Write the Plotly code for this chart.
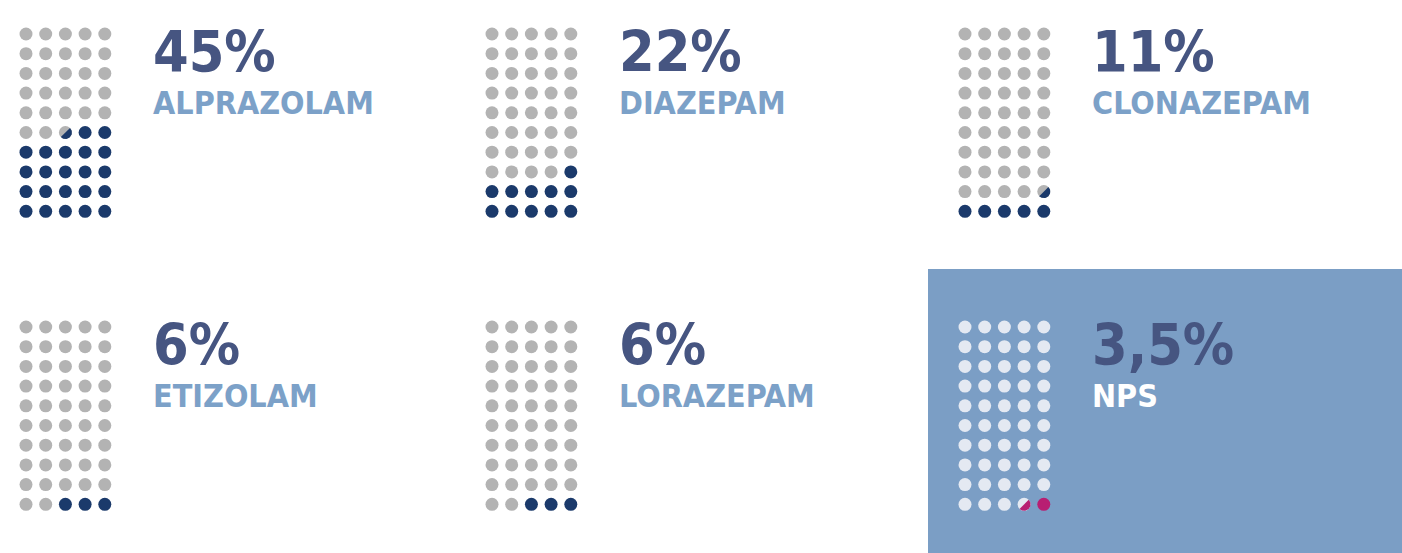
import math
import plotly.graph_objects as go

# ---- data ----
drugs = ["ALPRAZOLAM", "DIAZEPAM", "CLONAZEPAM", "ETIZOLAM", "LORAZEPAM", "NPS"]
shares = [45, 22, 11, 6, 6, 3.5]          # percent
share_labels = ["45%", "22%", "11%", "6%", "6%", "3,5%"]
highlighted = [False, False, False, False, False, True]

# ---- style / layout ----
W, H = 1402, 553
COLS, ROWS = 5, 10
PCT_PER_DOT = 100 / (COLS * ROWS)
STEP = 19.7
DOT = 13
grid_x = [26, 492, 965]      # first dot centre (px) per panel column
grid_y = [34, 327]           # top dot centre (px) per panel row
TEXT_DX = 125
FONT = "DejaVu Sans Condensed, Liberation Sans Narrow, sans-serif"

C_EMPTY = "#b3b3b3"
C_FULL = "#1b3a6b"
C_EMPTY_HL = "#e4e9f2"
C_FULL_HL = "#b81f72"
C_NUM = "#465581"
C_LABEL = "#7ca1c8"
C_PANEL = "#7b9ec5"

fig = go.Figure()
layout_axes = {}
annotations = []

for i, (name, val, lab, hl) in enumerate(zip(drugs, shares, share_labels, highlighted)):
    pc, pr = i % 3, i // 3
    gx, gy = grid_x[pc], grid_y[pr]
    ax = "" if i == 0 else str(i + 1)
    x0 = (gx - STEP / 2) / W
    x1 = (gx + (COLS - 0.5) * STEP) / W
    ybot_px = gy + (ROWS - 1) * STEP + STEP / 2
    ytop_px = gy - STEP / 2
    layout_axes["xaxis" + ax] = dict(domain=[x0, x1], range=[-0.5, COLS - 0.5], visible=False,
                                     fixedrange=True, anchor="y" + ax)
    layout_axes["yaxis" + ax] = dict(domain=[(H - ybot_px) / H, (H - ytop_px) / H],
                                     range=[-0.5, ROWS - 0.5], visible=False, fixedrange=True,
                                     anchor="x" + ax)
    empty_c = C_EMPTY_HL if hl else C_EMPTY
    full_c = C_FULL_HL if hl else C_FULL
    n = val / PCT_PER_DOT
    nfull = int(math.floor(n + 1e-9))
    frac = n - nfull
    xs, ys, cs = [], [], []
    partial = None
    for k in range(COLS * ROWS):
        r = k // COLS
        c = COLS - 1 - (k % COLS)
        xs.append(c)
        ys.append(r)
        cs.append(full_c if k < nfull else empty_c)
        if k == nfull and frac > 1e-9:
            partial = (c, r)
    fig.add_trace(go.Scatter(x=xs, y=ys, mode="markers", xaxis="x" + ax, yaxis="y" + ax,
                             marker=dict(size=DOT, color=cs, line=dict(width=0)),
                             hoverinfo="skip", showlegend=False))
    if partial is not None:
        rad = (DOT / 2) / STEP
        px, py = [], []
        for j in range(41):
            a = math.radians(45 - 180 * j / 40)
            px.append(partial[0] + rad * math.cos(a))
            py.append(partial[1] + rad * math.sin(a))
        fig.add_trace(go.Scatter(x=px, y=py, mode="lines", fill="toself", fillcolor=full_c,
                                 line=dict(width=0, color=full_c), xaxis="x" + ax, yaxis="y" + ax,
                                 hoverinfo="skip", showlegend=False))
    tx = (gx + TEXT_DX) / W
    annotations.append(dict(text=lab, x=tx, y=(H - (gy + 18)) / H, xref="paper", yref="paper",
                            xanchor="left", yanchor="middle", showarrow=False,
                            font=dict(family=FONT, size=57, color=C_NUM, weight="bold")))
    annotations.append(dict(text=name, x=tx, y=(H - (gy + 69)) / H, xref="paper", yref="paper",
                            xanchor="left", yanchor="middle", showarrow=False,
                            font=dict(family=FONT, size=32, color="#ffffff" if hl else C_LABEL,
                                      weight="bold")))

fig.update_layout(
    width=W, height=H, margin=dict(l=0, r=0, t=0, b=0),
    paper_bgcolor="white", plot_bgcolor="rgba(0,0,0,0)",
    annotations=annotations,
    shapes=[dict(type="rect", xref="paper", yref="paper", x0=928 / W, x1=1, y0=0, y1=(H - 269) / H,
                 fillcolor=C_PANEL, line=dict(width=0), layer="below")],
    **layout_axes,
)
fig.write_html("out.html", config={"displayModeBar": False},
               post_script="document.body.style.margin='0';document.body.style.overflow='hidden';")
